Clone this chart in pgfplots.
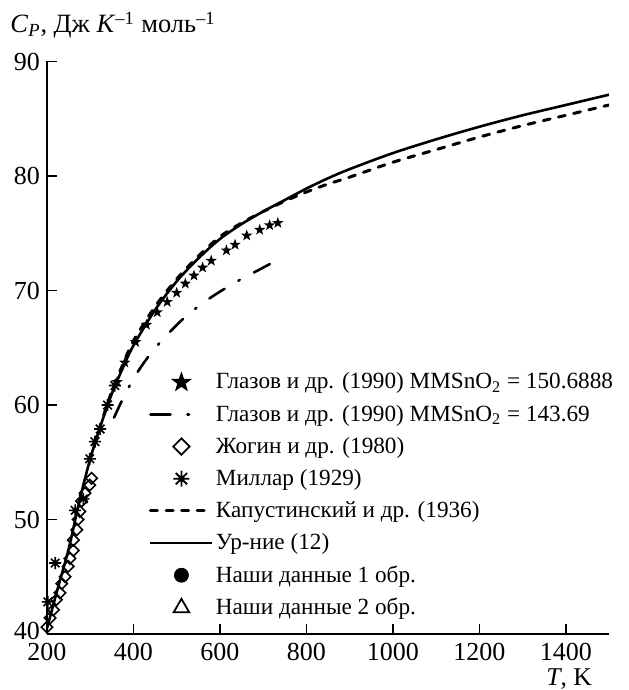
\documentclass[border=0pt]{standalone}
\usepackage{fontspec}
\setmainfont{Liberation Serif}
\usepackage{pgfplots}
\pgfplotsset{compat=1.18}
\usetikzlibrary{plotmarks}

\pgfdeclareplotmark{fstar}{%
  \pgfpathmoveto{\pgfpointpolar{90}{\pgfplotmarksize}}%
  \pgfpathlineto{\pgfpointpolar{126}{0.4\pgfplotmarksize}}%
  \pgfpathlineto{\pgfpointpolar{162}{\pgfplotmarksize}}%
  \pgfpathlineto{\pgfpointpolar{198}{0.4\pgfplotmarksize}}%
  \pgfpathlineto{\pgfpointpolar{234}{\pgfplotmarksize}}%
  \pgfpathlineto{\pgfpointpolar{270}{0.4\pgfplotmarksize}}%
  \pgfpathlineto{\pgfpointpolar{306}{\pgfplotmarksize}}%
  \pgfpathlineto{\pgfpointpolar{342}{0.4\pgfplotmarksize}}%
  \pgfpathlineto{\pgfpointpolar{18}{\pgfplotmarksize}}%
  \pgfpathlineto{\pgfpointpolar{54}{0.4\pgfplotmarksize}}%
  \pgfpathclose\pgfusepathqfill}
\pgfdeclareplotmark{ast8}{%
  \pgfpathmoveto{\pgfpointpolar{0}{\pgfplotmarksize}}\pgfpathlineto{\pgfpointpolar{180}{\pgfplotmarksize}}%
  \pgfpathmoveto{\pgfpointpolar{90}{\pgfplotmarksize}}\pgfpathlineto{\pgfpointpolar{270}{\pgfplotmarksize}}%
  \pgfpathmoveto{\pgfpointpolar{45}{\pgfplotmarksize}}\pgfpathlineto{\pgfpointpolar{225}{\pgfplotmarksize}}%
  \pgfpathmoveto{\pgfpointpolar{135}{\pgfplotmarksize}}\pgfpathlineto{\pgfpointpolar{315}{\pgfplotmarksize}}%
  \pgfusepathqstroke
  \pgfpathcircle{\pgfpointorigin}{0.4\pgfplotmarksize}\pgfusepathqfill}

\pgfplotstableread{
T Cp
200 40.5
225 44.0
250 47.4
275 51.6
300 55.3
325 58.3
350 61.0
375 63.2
400 65.2
450 68.3
500 70.8
550 72.8
600 74.5
650 75.8
700 76.9
750 77.9
800 78.9
850 79.8
900 80.6
1000 82.0
1100 83.2
1200 84.3
1300 85.3
1400 86.2
1500 87.1
}\urnie

\pgfplotstableread{
T Cp
298 55.2
325 58.4
350 61.2
375 63.5
400 65.6
450 68.6
500 71.0
550 73.0
600 74.7
650 75.9
700 76.9
750 77.8
800 78.6
850 79.3
900 79.9
1000 81.2
1100 82.3
1200 83.4
1300 84.4
1400 85.3
1500 86.2
}\kapust

\pgfplotstableread{
T Cp
355 58.9
380 60.9
405 62.6
430 64.0
460 65.4
490 66.6
520 67.7
560 68.9
600 69.9
640 70.8
680 71.6
720 72.4
}\glazovB

\pgfplotstableread{
T Cp
362 62.0
380 63.7
405 65.5
430 67.0
455 68.1
478 69.0
500 69.8
520 70.6
540 71.3
560 72.0
580 72.6
615 73.5
635 74.0
662 74.8
692 75.3
715 75.7
734 75.9
}\glazovA

\pgfplotstableread{
T Cp
200 40.6
207 41.4
215 42.1
222 43.0
230 43.6
234 44.4
242 45.0
249 45.9
253 46.6
261 47.3
261 48.2
269 49.1
272 50.0
276 50.7
280 51.6
288 52.3
299 53.0
303 53.6
}\zhogin

\pgfplotstableread{
T Cp
202 42.8
219 46.2
265 50.8
284 51.8
299 55.3
311 56.8
323 57.9
340 60.0
357 61.7
}\millar

\begin{document}
\begin{tikzpicture}
\begin{axis}[
  at={(0,0)}, anchor=south west,
  scale only axis, width=281pt, height=286.25pt,
  xmin=200, xmax=1500, ymin=40, ymax=90,
  axis lines=left,
  axis line style={line width=1pt, -},
  xtick={200,400,...,1400}, ytick={40,50,...,90},
  yticklabels={\raisebox{3pt}{40},50,60,70,80,90},
  tick align=inside, major tick length=5pt,
  tick style={line width=0.8pt, black},
  /pgf/number format/1000 sep={},
  /pgf/number format/assume math mode=true,
  ticklabel style={font=\fontsize{13}{15}\selectfont},
  xticklabel style={yshift=-1pt},
  xlabel={\textit{T}, K},
  xlabel style={at={(axis description cs:0.929,0)}, anchor=base, inner sep=0pt, yshift=-25.5pt, font=\fontsize{12.8}{15}\selectfont},
  ylabel={\textit{C}\textsubscript{\textit{P}}, Дж \textit{K}\textsuperscript{–1} моль\textsuperscript{–1}},
  ylabel style={rotate=-90, at={(axis description cs:0,1)}, anchor=base west, inner sep=0pt, xshift=-18.5pt, yshift=14.25pt, font=\fontsize{13.2}{15}\selectfont},
  legend style={at={(axis description cs:0.170,0.4664)}, anchor=north west, draw=none, fill=none,
    font=\fontsize{11.6}{14}\selectfont, row sep=6.5pt,
    nodes={inner ysep=0pt, inner xsep=1pt},
    /tikz/every even column/.append style={column sep=0pt}},
  legend cell align=left,
  legend image code/.code={\draw[mark repeat=2,mark phase=2] plot coordinates {(0pt,0pt) (15.5pt,0pt) (31pt,0pt)};},
]
% lines
\addplot[forget plot, black, line width=1.3pt, smooth] table[x=T,y=Cp] {\urnie};
\addplot[forget plot, black, line width=1.5pt, line cap=round, dash pattern=on 3.5pt off 4.3pt, smooth] table[x=T,y=Cp] {\kapust};
\addplot[forget plot, black, line width=1.3pt, line cap=round, dash pattern=on 9pt off 8pt on 0.8pt off 8pt, smooth] table[x=T,y=Cp] {\glazovB};
% markers
\addplot[forget plot, only marks, mark=square, mark size=2pt, mark options={rotate=45, line width=0.8pt, fill=white}] table[x=T,y=Cp] {\zhogin};
\addplot[forget plot, only marks, mark=ast8, mark size=3pt, mark options={line width=0.8pt}] table[x=T,y=Cp] {\millar};
\addplot[forget plot, only marks, mark=fstar, mark size=3pt] table[x=T,y=Cp] {\glazovA};
% legend
\addlegendimage{only marks, mark=fstar, mark size=5.5pt}
\addlegendentry{Глазов и др. (1990) MMSnO\textsubscript{2} = 150.6888}
\addlegendimage{black, line width=1.3pt, line cap=round, dash pattern=on 10pt off 8.5pt on 0.8pt off 12pt}
\addlegendentry{Глазов и др. (1990) MMSnO\textsubscript{2} = 143.69}
\addlegendimage{only marks, mark=square, mark size=2.9pt, mark options={rotate=45, line width=0.9pt}}
\addlegendentry{Жогин и др. (1980)}
\addlegendimage{only marks, mark=ast8, mark size=4pt, mark options={line width=0.9pt}}
\addlegendentry{Миллар (1929)}
\addlegendimage{black, line width=1.5pt, line cap=round, dash pattern=on 3.5pt off 4.3pt}
\addlegendentry{Капустинский и др. (1936)}
\addlegendimage{black, line width=1.3pt}
\addlegendentry{Ур-ние (12)}
\addlegendimage{only marks, mark=*, mark size=3.5pt}
\addlegendentry{Наши данные 1 обр.}
\addlegendimage{only marks, mark=triangle, mark size=4.5pt, mark options={line width=0.9pt}}
\addlegendentry{Наши данные 2 обр.}
\end{axis}
\pgfresetboundingbox
\useasboundingbox (-23.5pt,-28pt) rectangle (290.5pt,317pt);
\end{tikzpicture}
\end{document}
